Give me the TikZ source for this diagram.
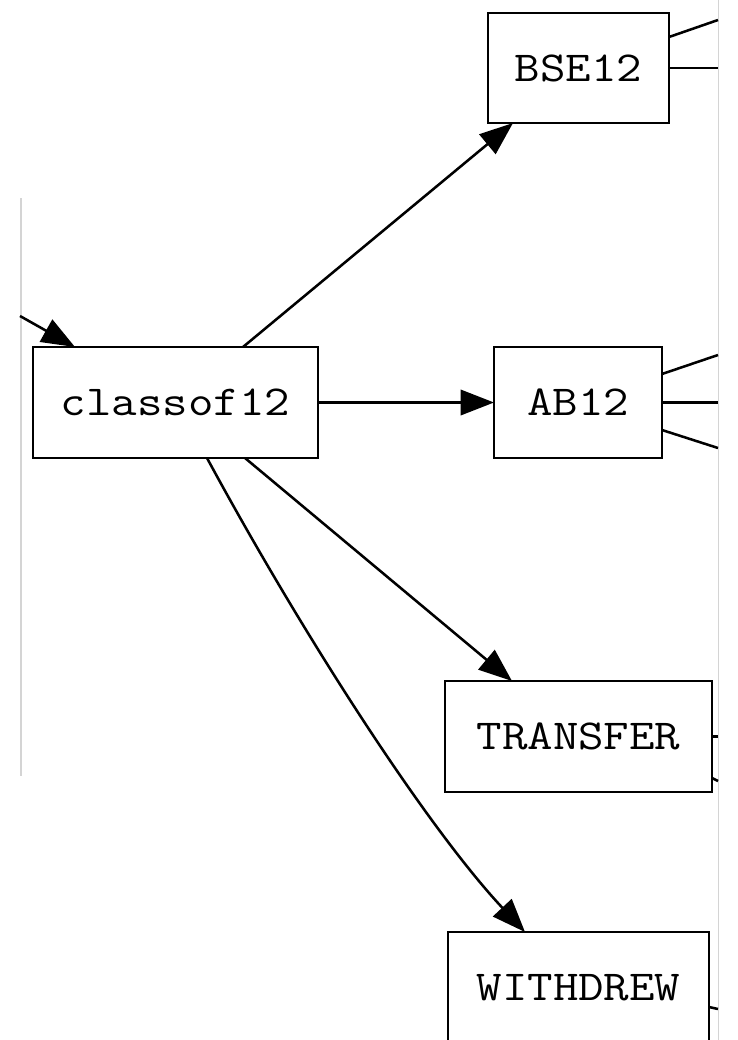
\documentclass[tikz,border=0pt]{standalone}
\usepackage{fontspec}
\setmonofont[FakeStretch=1.16]{Latin Modern Mono}
\usetikzlibrary{arrows.meta,calc}

\begin{document}
\begin{tikzpicture}[
  x=0.75pt, y=-0.75pt,
  box/.style={draw=black, line width=1.9pt, inner sep=0pt, outer sep=0pt,
              font=\ttfamily\fontsize{32}{36}\selectfont},
  edge/.style={draw=black, line width=1.9pt},
  arr/.style={edge, -{Triangle[length=25pt, width=19pt]}},
  frameline/.style={draw=black!17, line width=1.2pt}
]
% page extent
\useasboundingbox (0,0) rectangle (738,1040);

% side rules
\draw[frameline] (21,198) -- (21,776);
\draw[frameline] (718.5,0) -- (718.5,1040);

% nodes
\node[box, minimum width=135.75pt, minimum height=82.5pt]  (bse) at (578.5,68)    {BSE12};
\node[box, minimum width=213.75pt, minimum height=83.25pt] (cls) at (175.5,402.5) {classof12};
\node[box, minimum width=126pt,    minimum height=83.25pt] (ab)  at (578,402.5)   {AB12};
\node[box, minimum width=200.25pt, minimum height=83.25pt] (tr)  at (578.5,736.5) {TRANSFER};
\node[box, minimum width=195.75pt, minimum height=83.25pt] (wd)  at (578.5,987.5) {WITHDREW};

% incoming edge
\coordinate (cin) at (20,316);
\draw[arr] (cin) -- ($(cls.north west)+(42,0)$);

% edges out of classof12
\draw[arr] ($(cls.north west)+(210,0)$) -- ($(bse.south west)+(25,0)$);
\draw[arr] (cls.east) -- (ab.west);
\draw[arr] ($(cls.south west)+(212,0)$) -- ($(tr.north west)+(67,0)$);
\draw[arr] ($(cls.south west)+(174,0)$)
  .. controls (300,630) and (425,825) .. ($(wd.north west)+(77,0)$);

% edges leaving to the right
\coordinate (b1) at (718,20);
\coordinate (b2) at (718,68);
\draw[edge] ($(bse.north east)+(0,24)$) -- (b1);
\draw[edge] (bse.east) -- (b2);

\coordinate (a1) at (718,355);
\coordinate (a2) at (718,402.5);
\coordinate (a3) at (718,448);
\draw[edge] ($(ab.north east)+(0,27)$) -- (a1);
\draw[edge] (ab.east) -- (a2);
\draw[edge] ($(ab.south east)+(0,-28)$) -- (a3);

\coordinate (t1) at (718,736.5);
\coordinate (t2) at (718,781);
\draw[edge] (tr.east) -- (t1);
\draw[edge] ($(tr.south east)+(0,-14)$) -- (t2);

\coordinate (w1) at (718,1009);
\draw[edge] ($(wd.north east)+(0,75)$) -- (w1);
\end{tikzpicture}
\end{document}
